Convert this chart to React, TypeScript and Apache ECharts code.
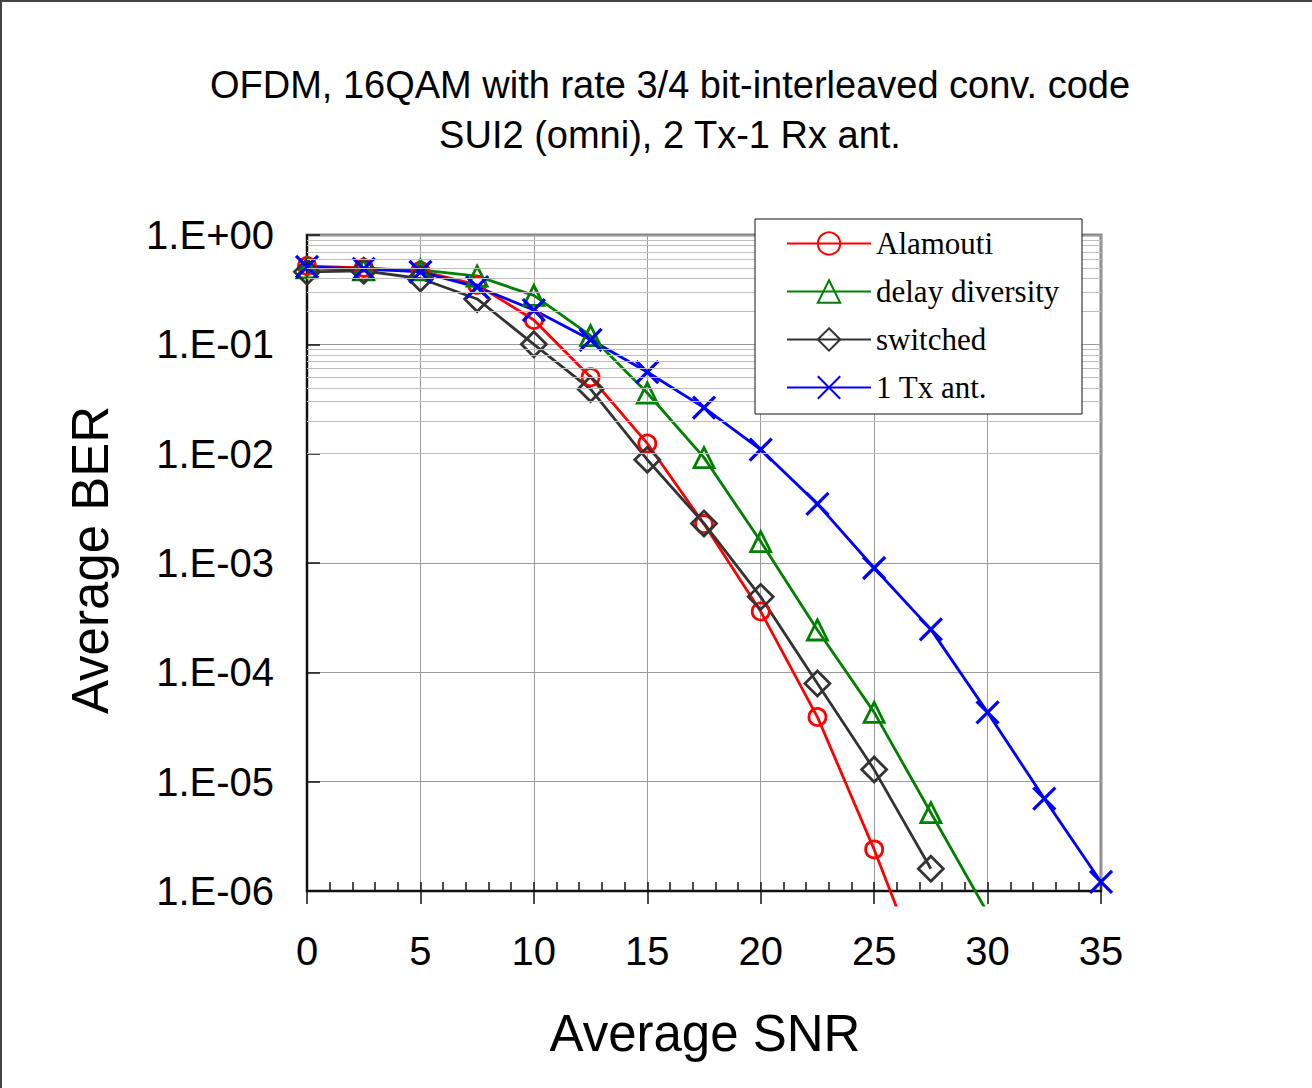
import React, { useEffect, useRef } from "react";
import * as echarts from "echarts";

const snr = [0, 2.5, 5, 7.5, 10, 12.5, 15, 17.5, 20, 22.5, 25, 27.5, 30, 32.5, 35];
const alamouti = [0.52, 0.5, 0.47, 0.35, 0.167, 0.05, 0.0124, 0.00227, 3.6e-4, 3.9e-5, 2.4e-6, 1.1e-7];
const delayDiversity = [0.5, 0.48, 0.48, 0.42, 0.28, 0.12, 0.0359, 0.0092, 0.00157, 2.44e-4, 4.3e-5, 5.2e-6, 6.3e-7];
const switched = [0.46, 0.47, 0.4, 0.26, 0.1, 0.039, 0.0088, 0.0023, 4.9e-4, 7.9e-5, 1.29e-5, 1.6e-6];
const oneTx = [0.51, 0.49, 0.46, 0.334, 0.206, 0.11, 0.0558, 0.0264, 0.0109, 0.00347, 9.0e-4, 2.47e-4, 4.3e-5, 7.0e-6, 1.21e-6];

const seriesNames = ["Alamouti", "delay diversity", "switched", "1 Tx ant."];
const yTickLabels = ["1.E-06", "1.E-05", "1.E-04", "1.E-03", "1.E-02", "1.E-01", "1.E+00"];
const yDecades = [-6, -5, -4, -3, -2, -1];
const yMinorMultipliers = [2, 3, 4, 5, 6, 7, 8, 9];
const titleLines = ["OFDM, 16QAM with rate 3/4 bit-interleaved conv. code", "SUI2 (omni), 2 Tx-1 Rx ant."];
const xAxisTitle = "Average SNR";
const yAxisTitle = "Average BER";

const pairs = (vals: number[]) => vals.map((v, i) => [snr[i], v]);

export default function App() {
  const ref = useRef<HTMLDivElement>(null);
  useEffect(() => {
    if (!ref.current) return;
    const chart = echarts.init(ref.current, null, { renderer: "svg" });
    const PL = 307, PT = 235, PW = 794, PH = 656, PH2 = 670;
    const minorGrid = yDecades.flatMap((d) => yMinorMultipliers.map((m) => m * Math.pow(10, d)));
    const font = "'Liberation Sans', Arial, sans-serif";
    const serif = "'Liberation Serif', 'Times New Roman', serif";
    const mk = (name: string, data: number[], color: string, symbol: string, size: number, bw: number) => ({
      name,
      type: "line",
      xAxisIndex: 2,
      yAxisIndex: 1,
      data: pairs(data),
      symbol,
      symbolSize: size,
      showAllSymbol: true,
      clip: true,
      lineStyle: { color, width: 2.8 },
      itemStyle: { color: "rgba(0,0,0,0)", borderColor: color, borderWidth: bw },
      emphasis: { disabled: true },
      z: 3,
    });
    chart.setOption({
      animation: false,
      backgroundColor: "#ffffff",
      grid: [
        { left: PL, top: PT, width: PW, height: PH, show: true, borderColor: "#8a8a8a", borderWidth: 3, backgroundColor: "rgba(0,0,0,0)" },
        { left: PL, top: PT, width: PW, height: PH2, show: false },
      ],
      xAxis: [
        {
          type: "value", gridIndex: 0, min: 0, max: 35, interval: 5, position: "bottom",
          axisLine: { show: true, lineStyle: { color: "#111", width: 2 } },
          axisTick: { show: true, inside: false, length: 13, lineStyle: { color: "#111", width: 1.5 } },
          axisLabel: { show: true, fontSize: 40, fontFamily: font, color: "#000", margin: 40 },
          splitLine: { show: true, lineStyle: { color: "#9a9a9a", width: 1 } },
        },
        {
          type: "value", gridIndex: 0, min: 0, max: 35, interval: 1, position: "bottom",
          axisLine: { show: false },
          axisTick: { show: true, inside: true, length: 9, lineStyle: { color: "#111", width: 1.5 } },
          axisLabel: { show: false },
          splitLine: { show: false },
        },
        { type: "value", gridIndex: 1, min: 0, max: 35, show: false },
      ],
      yAxis: [
        {
          type: "log", gridIndex: 0, logBase: 10, min: 1e-6, max: 1, splitNumber: 6,
          axisLine: { show: true, lineStyle: { color: "#111", width: 2 } },
          axisTick: { show: true, inside: true, length: 13, lineStyle: { color: "#111", width: 1.5 } },
          axisLabel: {
            show: true, fontSize: 40, fontFamily: font, color: "#000", margin: 33,
            formatter: (v: number) => yTickLabels[Math.round(Math.log10(v)) + 6] ?? "",
          },
          splitLine: { show: true, lineStyle: { color: "#9a9a9a", width: 1 } },
        },
        { type: "log", gridIndex: 1, logBase: 10, min: Math.pow(10, (-6 * PH2) / PH), max: 1, show: false },
      ],
      legend: {
        show: true,
        orient: "vertical",
        left: 786,
        top: 227,
        padding: 0,
        itemWidth: 84,
        itemHeight: 28,
        itemGap: 15,
        selectedMode: false,
        data: seriesNames,
        textStyle: { fontFamily: serif, fontSize: 31, color: "#000", lineHeight: 33 },
        z: 60,
      },
      graphic: {
        z: 50,
        elements: [
          { type: "rect", shape: { x: 755, y: 219, width: 327, height: 195 }, style: { fill: "#fff", stroke: "#111", lineWidth: 1 }, z: 50 },
          { type: "line", shape: { x1: 1, y1: 0, x2: 1, y2: 1088 }, style: { stroke: "#444", lineWidth: 2 } },
          { type: "line", shape: { x1: 0, y1: 1, x2: 1312, y2: 1 }, style: { stroke: "#444", lineWidth: 2 } },
          { type: "text", x: 670, y: 85, style: { text: titleLines[0], font: `38px ${font}`, fill: "#000", textAlign: "center", textVerticalAlign: "middle" } },
          { type: "text", x: 670, y: 135, style: { text: titleLines[1], font: `38px ${font}`, fill: "#000", textAlign: "center", textVerticalAlign: "middle" } },
          { type: "text", x: 705, y: 1033, style: { text: xAxisTitle, font: `51px ${font}`, fill: "#000", textAlign: "center", textVerticalAlign: "middle" } },
          { type: "text", x: 90, y: 560, rotation: Math.PI / 2, style: { text: yAxisTitle, font: `51px ${font}`, fill: "#000", textAlign: "center", textVerticalAlign: "middle" } },
        ],
      },
      series: [
        {
          type: "line", xAxisIndex: 0, yAxisIndex: 0, data: [], silent: true, z: 1,
          markLine: {
            silent: true, symbol: ["none", "none"], label: { show: false }, animation: false,
            lineStyle: { color: "#bdbdbd", type: "solid", width: 1 },
            data: minorGrid.map((v) => ({ yAxis: v })),
          },
        },
        mk(seriesNames[0], alamouti, "#ff0000", "circle", 17, 2.8),
        mk(seriesNames[1], delayDiversity, "#008000", "triangle", 20, 2.8),
        mk(seriesNames[2], switched, "#333333", "diamond", 25, 2.8),
        mk(seriesNames[3], oneTx, "#0000ff", "path://M0,0L20,20M20,0L0,20", 22, 3.2),
      ],
    });
    return () => chart.dispose();
  }, []);
  return <div ref={ref} style={{ position: "fixed", left: 0, top: 0, width: 1312, height: 1088, background: "#fff" }} />;
}
